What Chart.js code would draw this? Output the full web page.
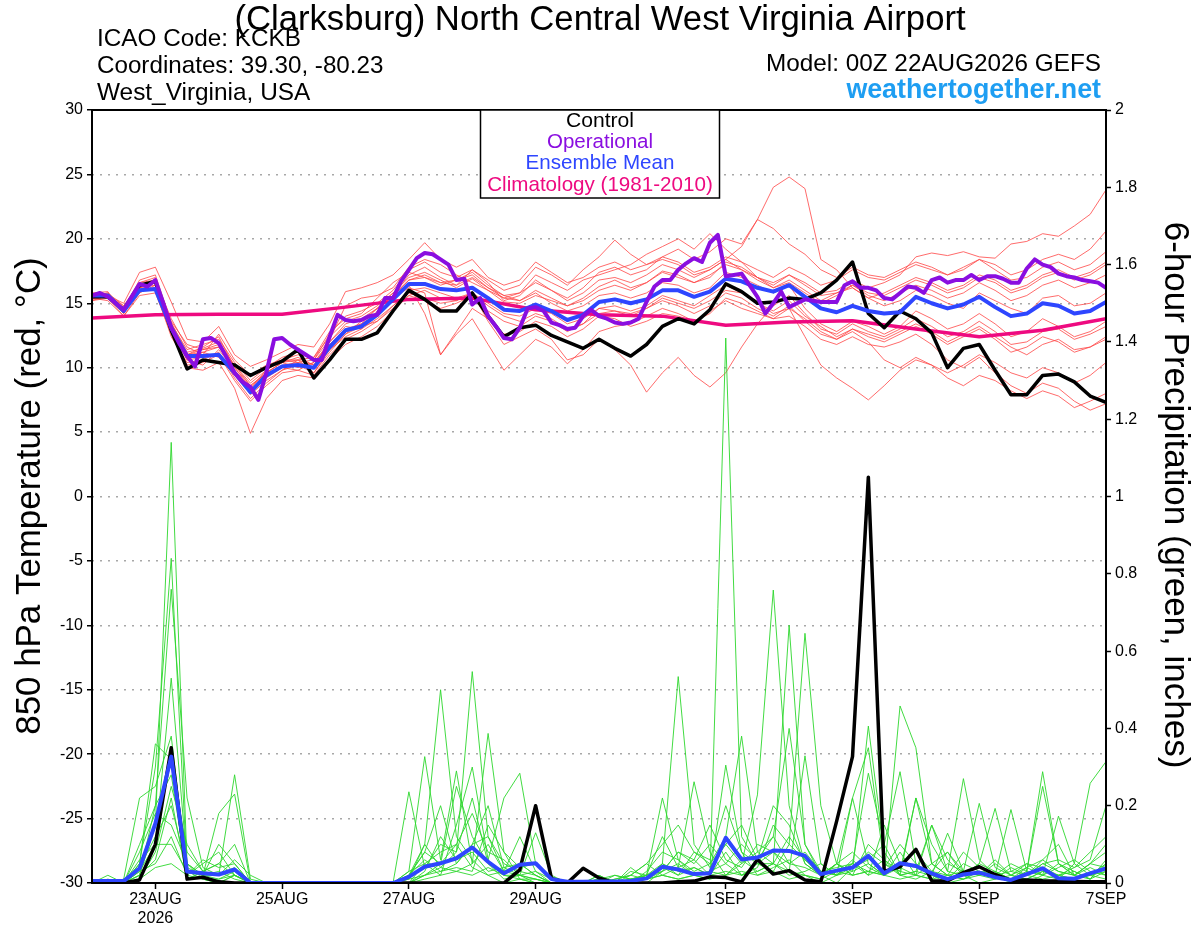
<!DOCTYPE html>
<html>
<head>
<meta charset="utf-8">
<title>KCKB GEFS 850 hPa temperature and precipitation</title>
<script src="https://cdn.jsdelivr.net/npm/chart.js@4.4.1/dist/chart.umd.min.js"></script>
<style>
  html, body { margin: 0; padding: 0; background: #fff; }
  canvas { display: block; }
</style>
</head>
<body>
<canvas id="meteogram" width="1200" height="927"></canvas>
<script>
// forecast hours: members, control and mean every 6 h, operational every 3 h, climatology daily
const stepHours = 6;
const opStepHours = 3;
const climStepHours = 24;

const tickHours = [24, 72, 120, 168, 240, 288, 336, 384];
const tickLabels = [['23AUG', '2026'], '25AUG', '27AUG', '29AUG', '1SEP', '3SEP', '5SEP', '7SEP'];

const controlTemp = [
  15.5, 15.5, 14.5, 16.4, 16.7, 12.9, 9.9, 10.6, 10.4, 10.2, 9.4, 10.0, 10.5,
  11.4, 9.2, 10.6, 12.2, 12.2, 12.7, 14.4, 16.0, 15.3, 14.4, 14.4, 15.8, 14.0,
  12.4, 13.1, 13.3, 12.5, 12.0, 11.5, 12.2, 11.5, 10.9, 11.8, 13.2, 13.8, 13.4,
  14.5, 16.5, 15.9, 15.0, 15.1, 15.4, 15.3, 15.8, 16.8, 18.2, 14.2, 13.1, 14.4,
  13.8, 12.7, 10.0, 11.5, 11.8, 9.8, 7.9, 7.9, 9.4, 9.5, 8.9, 7.8, 7.3
];

const meanTemp = [
  15.6, 15.6, 14.4, 16.0, 16.1, 13.1, 10.9, 10.9, 11.0, 9.6, 8.1, 9.4, 10.1,
  10.2, 10.0, 11.6, 12.9, 13.2, 14.1, 15.3, 16.5, 16.5, 16.1, 16.0, 16.2, 15.4,
  14.5, 14.4, 14.9, 14.4, 13.7, 14.1, 15.1, 15.3, 15.0, 15.3, 16.0, 16.0, 15.5,
  15.9, 16.9, 16.7, 16.2, 15.9, 16.4, 15.5, 14.6, 14.3, 14.8, 14.4, 14.2, 14.3,
  15.5, 15.0, 14.6, 14.9, 15.5, 14.7, 14.0, 14.2, 15.0, 14.8, 14.2, 14.4, 15.1
];

const opTemp = [
  15.6, 15.8, 15.5, 15.0, 14.5, 15.5, 16.5, 16.3, 16.8, 15.0, 13.1, 11.9, 10.9, 10.1, 12.2, 12.3,
  11.9, 10.8, 9.6, 8.9, 8.5, 7.5, 9.6, 12.2, 12.3, 11.8, 11.4, 11.0, 10.6, 10.6, 12.4, 14.1,
  13.7, 13.6, 13.7, 14.0, 14.1, 15.4, 15.4, 16.7, 17.6, 18.5, 18.9, 18.8, 18.4, 18.0, 16.8, 16.9,
  14.9, 15.4, 14.0, 13.2, 12.3, 12.2, 13.1, 14.6, 14.7, 14.4, 13.5, 13.3, 13.0, 13.1, 14.0, 14.5,
  14.0, 13.8, 13.5, 13.4, 13.5, 13.8, 15.1, 16.3, 16.8, 16.8, 17.6, 18.1, 18.5, 18.2, 19.7, 20.3,
  17.1, 17.2, 17.3, 16.4, 15.5, 14.2, 15.0, 15.9, 14.7, 15.0, 15.3, 15.2, 15.1, 15.1, 15.1, 16.4,
  16.7, 16.2, 16.2, 16.0, 15.4, 15.3, 15.8, 16.3, 16.2, 15.8, 16.8, 17.0, 16.6, 16.8, 16.8, 17.2,
  16.8, 17.1, 17.1, 16.9, 16.6, 16.6, 17.7, 18.4, 18.0, 17.8, 17.3, 17.1, 17.0, 16.8, 16.7, 16.6,
  16.2
];

const climTemp = [13.85, 14.1, 14.15, 14.15, 14.7, 15.3, 15.4, 14.5, 14.1, 14.0, 13.3, 13.55, 13.65, 13.0, 12.4, 12.9, 13.8];

const tempMembers = [
  [15.4, 15.7, 14.6, 16.8, 17.2, 13.5, 11.2, 11.5, 12.0, 10.2, 8.8, 9.8, 10.6,
   11.0, 10.8, 12.4, 13.6, 14.0, 14.8, 15.8, 17.0, 17.4, 16.8, 16.2, 16.9, 16.0,
   15.1, 15.0, 15.6, 15.2, 14.8, 15.4, 16.3, 16.8, 16.2, 16.6, 17.5, 17.2, 16.6,
   17.0, 18.2, 17.8, 17.0, 16.4, 17.2, 16.6, 15.8, 16.0, 16.8, 16.2, 16.6, 17.2,
   18.6, 18.9, 18.7, 19.0, 18.6, 18.5, 19.6, 19.8, 20.4, 20.2, 21.0, 21.9, 23.8],
  [15.8, 15.9, 14.2, 16.4, 16.6, 12.8, 10.6, 10.2, 11.4, 9.8, 7.9, 9.0, 9.8,
   10.6, 9.6, 11.2, 12.6, 13.6, 14.6, 15.6, 17.2, 17.8, 17.0, 16.4, 17.6, 16.6,
   15.2, 15.6, 16.8, 16.0, 15.4, 16.2, 17.4, 17.8, 17.2, 17.6, 18.6, 19.2, 18.4,
   19.0, 20.0, 19.6, 21.5, 24.0, 24.8, 23.9, 18.4, 17.6, 16.2, 15.4, 14.8, 15.2,
   16.0, 15.6, 15.0, 14.6, 15.8, 15.2, 14.6, 14.2, 15.4, 15.6, 14.8, 15.0, 15.8],
  [15.2, 15.4, 14.0, 15.6, 15.8, 12.6, 10.0, 9.8, 10.4, 8.4, 4.9, 7.6, 9.0,
   9.4, 9.2, 10.6, 11.8, 12.4, 13.2, 14.4, 15.6, 15.2, 14.6, 15.0, 15.6, 14.4,
   13.6, 13.2, 14.0, 13.6, 12.8, 13.4, 14.6, 14.4, 14.2, 14.6, 15.4, 15.0, 14.6,
   15.2, 16.0, 15.8, 15.0, 14.4, 15.2, 14.0, 13.2, 12.4, 13.0, 12.6, 12.2, 12.8,
   13.4, 12.8, 12.0, 12.6, 13.2, 12.4, 11.6, 11.0, 11.8, 12.2, 11.4, 11.6, 12.4],
  [15.6, 15.4, 14.6, 16.2, 16.4, 13.2, 11.0, 11.4, 11.8, 10.0, 8.6, 9.6, 10.4,
   10.8, 10.2, 11.8, 13.0, 13.4, 14.2, 15.4, 16.2, 15.8, 11.0, 12.8, 14.6, 13.8,
   12.6, 12.8, 13.6, 13.2, 12.4, 13.0, 14.0, 13.8, 13.2, 13.6, 14.2, 14.0, 13.6,
   14.2, 15.4, 15.0, 14.4, 13.8, 14.0, 13.2, 12.2, 11.8, 12.4, 11.8, 11.6, 12.0,
   12.6, 11.8, 10.6, 10.0, 10.8, 9.6, 8.6, 8.0, 8.8, 8.4, 7.4, 6.7, 7.2],
  [15.5, 15.8, 14.8, 16.0, 16.2, 13.0, 10.8, 11.2, 10.8, 9.4, 8.0, 9.2, 10.0,
   9.8, 10.4, 12.0, 13.2, 13.0, 13.8, 14.8, 16.0, 16.2, 15.8, 15.4, 15.8, 13.6,
   11.8, 12.4, 13.0, 12.2, 10.6, 11.0, 12.2, 11.4, 10.2, 8.1, 9.6, 10.8, 9.4,
   8.5, 9.6, 11.6, 13.4, 14.8, 15.6, 14.2, 13.0, 12.6, 13.4, 12.8, 12.4, 13.0,
   13.8, 13.2, 12.4, 12.8, 13.6, 12.8, 11.8, 12.0, 12.8, 13.0, 12.2, 12.6, 13.2],
  [15.7, 15.6, 14.2, 16.6, 17.0, 13.4, 11.4, 11.8, 12.2, 10.4, 9.0, 10.0, 10.8,
   11.2, 10.6, 12.6, 14.0, 14.4, 15.0, 16.0, 17.6, 18.2, 17.4, 17.0, 17.6, 16.8,
   16.0, 16.4, 17.8, 17.2, 16.4, 17.6, 18.6, 19.9, 18.8, 18.0, 18.6, 18.2, 17.4,
   17.8, 18.6, 18.2, 17.6, 17.0, 17.8, 17.2, 16.4, 16.8, 17.6, 17.0, 16.8, 17.4,
   18.0, 17.6, 17.2, 17.8, 18.4, 17.6, 16.8, 17.0, 17.8, 18.2, 17.6, 18.0, 19.0],
  [15.3, 15.5, 14.4, 16.2, 16.8, 13.8, 11.6, 11.0, 12.6, 10.6, 9.4, 10.2, 10.6,
   10.4, 10.6, 12.2, 14.8, 15.4, 15.6, 16.2, 17.8, 18.4, 18.0, 17.2, 16.6, 16.0,
   15.4, 15.8, 17.2, 16.6, 16.0, 16.8, 17.2, 17.6, 18.0, 18.8, 19.4, 20.0, 19.2,
   20.4, 19.2, 18.2, 17.0, 16.2, 16.6, 15.8, 15.0, 15.6, 16.4, 15.6, 15.2, 15.8,
   16.4, 16.0, 15.4, 15.8, 16.6, 16.0, 15.2, 15.6, 16.4, 16.8, 16.2, 16.6, 17.2],
  [15.6, 15.8, 14.6, 16.4, 16.0, 12.4, 10.4, 10.6, 11.2, 9.2, 7.6, 8.8, 9.8,
   10.2, 9.6, 11.4, 12.4, 13.0, 14.4, 15.6, 16.8, 17.2, 16.6, 16.4, 17.0, 16.2,
   15.6, 15.2, 15.8, 15.0, 14.4, 14.8, 15.6, 15.8, 15.4, 15.8, 16.6, 16.4, 15.8,
   16.2, 17.4, 17.0, 16.4, 15.8, 16.4, 14.6, 13.4, 12.8, 13.6, 13.2, 12.6, 13.2,
   14.4, 13.8, 13.0, 13.4, 14.2, 13.4, 12.4, 12.8, 13.8, 13.2, 12.4, 12.8, 13.6],
  [15.4, 15.2, 14.0, 15.8, 16.4, 13.6, 11.8, 11.4, 11.6, 10.2, 8.6, 9.6, 10.4,
   10.0, 10.4, 11.8, 12.8, 13.4, 14.6, 15.8, 16.4, 14.2, 11.0, 12.6, 13.8, 11.8,
   9.8, 11.0, 12.2, 11.6, 10.3, 11.4, 12.8, 13.2, 13.4, 14.0, 14.6, 14.2, 13.6,
   14.4, 15.2, 14.6, 14.2, 13.8, 14.6, 13.8, 12.8, 12.2, 12.8, 12.0, 10.6, 10.0,
   10.8, 10.2, 9.2, 8.6, 9.4, 9.0, 8.2, 7.6, 8.2, 7.8, 6.9, 7.4, 8.0],
  [15.2, 15.6, 15.0, 17.4, 17.8, 15.1, 12.2, 12.0, 13.2, 11.0, 10.1, 10.6, 11.2,
   11.8, 11.6, 13.4, 15.9, 16.2, 16.6, 17.2, 18.4, 19.7, 18.4, 17.8, 18.4, 17.0,
   16.4, 16.8, 18.2, 17.4, 16.6, 17.0, 17.8, 18.2, 17.6, 18.0, 18.4, 18.0, 17.2,
   17.6, 18.4, 17.6, 16.8, 16.2, 16.8, 16.0, 15.2, 15.8, 16.2, 15.4, 15.8, 16.4,
   17.0, 16.6, 16.0, 16.4, 17.2, 16.8, 16.0, 16.4, 17.2, 17.6, 17.0, 17.4, 18.2],
  [15.8, 15.4, 14.2, 16.0, 16.6, 13.0, 10.6, 10.8, 11.0, 9.6, 8.2, 9.4, 10.2,
   10.4, 10.0, 11.4, 12.6, 13.2, 13.6, 14.8, 15.8, 15.4, 15.0, 15.2, 15.8, 15.0,
   14.2, 14.0, 14.6, 14.2, 13.4, 13.8, 14.6, 14.8, 14.4, 14.8, 15.6, 15.2, 14.8,
   15.6, 16.4, 15.8, 15.0, 14.2, 14.6, 12.4, 10.2, 9.2, 8.4, 7.5, 8.6, 9.8,
   10.6, 10.2, 9.6, 10.2, 11.0, 10.4, 9.6, 9.2, 10.0, 9.6, 8.8, 9.4, 10.4],
  [15.5, 15.6, 14.8, 16.6, 16.8, 13.2, 11.0, 11.6, 12.4, 10.0, 8.4, 9.8, 10.6,
   10.6, 10.8, 12.8, 13.8, 14.2, 15.4, 16.6, 17.4, 17.0, 16.4, 16.8, 17.4, 16.4,
   15.6, 15.8, 16.6, 16.0, 15.2, 15.8, 16.8, 17.0, 16.6, 17.2, 18.0, 17.6, 17.0,
   17.6, 18.4, 19.4, 21.5, 20.8, 19.6, 18.8, 17.6, 17.0, 17.8, 17.2, 17.0, 17.6,
   18.2, 17.8, 17.2, 17.6, 18.4, 18.0, 17.2, 17.6, 18.4, 18.8, 18.4, 19.2, 20.6],
  [15.6, 15.7, 14.3, 16.2, 16.0, 12.8, 10.2, 10.4, 11.0, 9.0, 7.4, 8.6, 9.6,
   9.8, 9.4, 11.0, 12.2, 12.8, 13.6, 14.6, 15.6, 16.0, 15.4, 15.2, 15.8, 14.8,
   14.0, 13.6, 14.2, 13.8, 13.0, 13.4, 14.2, 14.4, 14.0, 14.6, 15.2, 14.8, 14.2,
   14.8, 15.8, 15.4, 14.6, 14.0, 14.8, 13.6, 12.6, 12.2, 13.0, 12.4, 12.0, 12.6,
   13.2, 12.6, 11.8, 12.4, 13.0, 12.2, 11.2, 11.6, 12.4, 12.0, 11.2, 11.6, 12.2],
  [15.4, 15.5, 14.5, 16.4, 16.6, 13.4, 11.0, 11.2, 11.6, 9.8, 8.4, 9.6, 10.4,
   10.6, 10.2, 12.0, 13.4, 13.8, 14.6, 15.6, 16.8, 17.0, 16.6, 16.8, 17.2, 16.2,
   15.4, 15.2, 16.0, 15.4, 14.8, 15.2, 16.0, 16.4, 16.0, 16.6, 17.4, 17.0, 16.6,
   17.2, 18.0, 17.6, 17.0, 16.6, 17.2, 16.4, 15.6, 15.8, 16.4, 15.8, 15.6, 16.2,
   16.8, 16.4, 15.8, 16.2, 17.0, 16.6, 15.8, 16.2, 17.0, 17.4, 16.8, 17.2, 18.0]
];

const controlPrecip = [
  0, 0, 0, 0.008, 0.10, 0.35, 0.01, 0.015, 0.003, 0, 0, 0, 0,
  0, 0, 0, 0, 0, 0, 0, 0, 0, 0, 0, 0, 0,
  0, 0.034, 0.20, 0.012, 0, 0.038, 0.013, 0, 0, 0, 0, 0.003, 0.005,
  0.016, 0.014, 0.003, 0.061, 0.023, 0.032, 0.008, 0.003, 0.16, 0.327, 1.05, 0.03, 0.042,
  0.087, 0.006, 0.005, 0.027, 0.042, 0.022, 0.007, 0.008, 0.006, 0.005, 0.004, 0.003, 0.003
];

const meanPrecip = [
  0.005, 0.005, 0.005, 0.038, 0.154, 0.327, 0.03, 0.025, 0.022, 0.035, 0, 0, 0,
  0, 0, 0, 0, 0, 0, 0, 0.016, 0.042, 0.051, 0.064, 0.092, 0.055,
  0.025, 0.047, 0.051, 0.01, 0.003, 0.003, 0.004, 0.004, 0.005, 0.012, 0.042, 0.035, 0.023,
  0.025, 0.117, 0.061, 0.066, 0.084, 0.083, 0.07, 0.023, 0.032, 0.04, 0.07, 0.025, 0.051,
  0.044, 0.025, 0.01, 0.022, 0.027, 0.015, 0.008, 0.023, 0.038, 0.012, 0.011, 0.025, 0.038
];

const precipMembers = [
  [0, 0, 0, 0.02, 0.15, 1.14, 0.05, 0.01, 0, 0.02, 0, 0, 0,
   0, 0, 0, 0, 0, 0, 0, 0.02, 0.08, 0.05, 0.1, 0.04, 0.02,
   0, 0.01, 0, 0, 0, 0, 0.01, 0, 0, 0, 0.03, 0.05, 0.02,
   0.01, 1.41, 0.12, 0.05, 0.08, 0.03, 0.02, 0, 0.02, 0.06, 0.02, 0.04, 0.1,
   0.05, 0.02, 0, 0.01, 0.03, 0.02, 0, 0, 0.02, 0.05, 0.03, 0.01, 0.06],
  [0, 0.01, 0, 0.05, 0.3, 0.84, 0.03, 0.02, 0.1, 0.05, 0, 0, 0,
   0, 0, 0, 0, 0, 0, 0, 0.02, 0.1, 0.5, 0.12, 0.06, 0.02,
   0.03, 0.02, 0, 0, 0, 0, 0, 0, 0.02, 0.01, 0.05, 0.534, 0.1,
   0.04, 0.1, 0.05, 0.228, 0.758, 0.2, 0.05, 0.02, 0, 0.04, 0.08, 0.05, 0.02,
   0.03, 0.15, 0.06, 0.02, 0, 0.01, 0.04, 0.02, 0.06, 0.1, 0.02, 0.05, 0.08],
  [0, 0, 0, 0.1, 0.2, 0.76, 0.22, 0.04, 0.02, 0.28, 0.01, 0, 0,
   0, 0, 0, 0, 0, 0, 0, 0.236, 0.04, 0.1, 0.08, 0.547, 0.12,
   0.03, 0.05, 0.02, 0, 0, 0, 0, 0, 0, 0.02, 0.12, 0.04, 0.262,
   0.08, 0.02, 0.06, 0.03, 0.05, 0.667, 0.1, 0.02, 0.05, 0.03, 0.406, 0.08, 0.02,
   0.01, 0.03, 0.08, 0.02, 0.05, 0.03, 0.01, 0.04, 0.02, 0.01, 0.05, 0.258, 0.314],
  [0, 0, 0, 0.03, 0.1, 0.53, 0.05, 0.02, 0.18, 0.23, 0, 0, 0,
   0, 0, 0, 0, 0, 0, 0, 0.03, 0.327, 0.06, 0.29, 0.05, 0.387,
   0.08, 0.01, 0, 0, 0, 0, 0.02, 0, 0.04, 0.01, 0.03, 0.08, 0.06,
   0.02, 0.305, 0.08, 0.05, 0.03, 0.1, 0.646, 0.2, 0.05, 0.02, 0.03, 0.02, 0.458,
   0.35, 0.05, 0.02, 0.03, 0.02, 0.01, 0.02, 0.01, 0.03, 0.02, 0.01, 0.02, 0.05],
  [0, 0, 0.01, 0.22, 0.25, 0.38, 0.03, 0.01, 0, 0.02, 0, 0, 0,
   0, 0, 0, 0, 0, 0, 0, 0, 0.05, 0.02, 0.15, 0.3, 0.06,
   0.22, 0.284, 0.05, 0.01, 0, 0, 0.01, 0, 0.01, 0.02, 0.22, 0.06, 0.03,
   0.05, 0.12, 0.38, 0.08, 0.05, 0.03, 0.329, 0.05, 0.02, 0.22, 0.05, 0.02, 0.04,
   0.02, 0.15, 0.03, 0.27, 0.06, 0.02, 0.01, 0.03, 0.288, 0.05, 0.02, 0.01, 0.03],
  [0, 0, 0, 0.05, 0.36, 0.32, 0.08, 0.03, 0.05, 0.02, 0, 0, 0,
   0, 0, 0, 0, 0, 0, 0, 0.02, 0.08, 0.2, 0.05, 0.1, 0.2,
   0.04, 0.02, 0.13, 0.02, 0, 0, 0.01, 0.02, 0.01, 0.01, 0.05, 0.02, 0.04,
   0.02, 0.08, 0.02, 0.03, 0.05, 0.12, 0.06, 0.03, 0.02, 0.05, 0.284, 0.1, 0.288,
   0.05, 0.02, 0.129, 0.03, 0.206, 0.04, 0.02, 0.05, 0.02, 0.173, 0.05, 0.02, 0.01],
  [0, 0.02, 0, 0.02, 0.2, 0.28, 0.02, 0.06, 0.04, 0.05, 0, 0, 0,
   0, 0, 0, 0, 0, 0, 0, 0, 0.02, 0.05, 0.25, 0.12, 0.05,
   0.01, 0.02, 0.03, 0, 0, 0, 0, 0.01, 0.02, 0.05, 0.02, 0.04, 0.06,
   0.15, 0.06, 0.04, 0.1, 0.08, 0.05, 0.04, 0.02, 0.05, 0.22, 0.35, 0.05, 0.03,
   0.22, 0.1, 0.03, 0.02, 0.05, 0.193, 0.03, 0.02, 0.05, 0.03, 0.02, 0.05, 0.04],
  [0, 0, 0, 0.01, 0.08, 0.25, 0.1, 0.03, 0.02, 0.06, 0.02, 0, 0,
   0, 0, 0, 0, 0, 0, 0, 0.01, 0.1, 0.04, 0.03, 0.05, 0.1,
   0.03, 0.12, 0.03, 0.01, 0, 0, 0.02, 0, 0, 0.03, 0.08, 0.06, 0.02,
   0.03, 0.05, 0.1, 0.06, 0.12, 0.05, 0.08, 0.03, 0.04, 0.05, 0.03, 0.06, 0.02,
   0.22, 0.05, 0.02, 0.08, 0.04, 0.02, 0.19, 0.03, 0.02, 0.04, 0.06, 0.03, 0.02],
  [0, 0, 0, 0.04, 0.12, 0.2, 0.04, 0.02, 0.01, 0.03, 0, 0, 0,
   0, 0, 0, 0, 0, 0, 0, 0.03, 0.05, 0.08, 0.1, 0.18, 0.08,
   0.06, 0.02, 0.01, 0, 0, 0, 0, 0.02, 0.01, 0.02, 0.04, 0.02, 0.08,
   0.05, 0.1, 0.15, 0.06, 0.2, 0.15, 0.05, 0.02, 0.05, 0.08, 0.04, 0.02, 0.05,
   0.08, 0.03, 0.02, 0.01, 0.03, 0.02, 0.05, 0.03, 0.25, 0.05, 0.02, 0.05, 0.1],
  [0, 0, 0, 0.08, 0.18, 0.15, 0.05, 0.02, 0.03, 0.01, 0, 0, 0,
   0, 0, 0, 0, 0, 0, 0, 0, 0.03, 0.12, 0.06, 0.08, 0.03,
   0.04, 0.05, 0.02, 0, 0, 0, 0, 0, 0, 0.01, 0.02, 0.01, 0.02,
   0.03, 0.02, 0.05, 0.08, 0.12, 0.4, 0.1, 0.03, 0.02, 0.03, 0.05, 0.02, 0.08,
   0.02, 0.01, 0.05, 0.03, 0.02, 0.06, 0.02, 0.01, 0.03, 0.02, 0.04, 0.06, 0.2],
  [0, 0, 0, 0.03, 0.05, 0.12, 0.02, 0.05, 0.08, 0.02, 0, 0, 0,
   0, 0, 0, 0, 0, 0, 0, 0.02, 0.06, 0.03, 0.04, 0.03, 0.15,
   0.08, 0.04, 0.05, 0.01, 0, 0, 0.01, 0, 0.01, 0.02, 0.03, 0.08, 0.05,
   0.1, 0.05, 0.02, 0.04, 0.15, 0.1, 0.06, 0.02, 0.03, 0.05, 0.02, 0.15, 0.05,
   0.04, 0.02, 0.01, 0.05, 0.03, 0.02, 0.03, 0.05, 0.04, 0.02, 0.03, 0.01, 0.05],
  [0, 0, 0, 0.02, 0.06, 0.22, 0.01, 0.03, 0.05, 0.1, 0, 0, 0,
   0, 0, 0, 0, 0, 0, 0, 0.01, 0.02, 0.04, 0.08, 0.22, 0.05,
   0.02, 0.02, 0.01, 0, 0, 0, 0, 0.01, 0.02, 0.05, 0.1, 0.15, 0.08,
   0.06, 0.2, 0.08, 0.02, 0.04, 0.06, 0.02, 0.01, 0.05, 0.02, 0.1, 0.06, 0.03,
   0.02, 0.05, 0.08, 0.03, 0.02, 0.05, 0.02, 0.04, 0.06, 0.03, 0.02, 0.04, 0.02],
  [0, 0, 0, 0.06, 0.1, 0.1, 0.03, 0.02, 0.02, 0.04, 0, 0, 0,
   0, 0, 0, 0, 0, 0, 0, 0, 0.02, 0.03, 0.05, 0.1, 0.12,
   0.05, 0.03, 0.02, 0, 0, 0, 0, 0, 0.03, 0.02, 0.05, 0.03, 0.04,
   0.02, 0.03, 0.02, 0.05, 0.05, 0.02, 0.03, 0.05, 0.02, 0.04, 0.06, 0.1, 0.02,
   0.03, 0.02, 0.01, 0.02, 0.03, 0.02, 0.01, 0.02, 0.05, 0.06, 0.04, 0.08, 0.12],
  [0, 0, 0, 0.01, 0.04, 0.05, 0.02, 0.01, 0.01, 0.02, 0, 0, 0,
   0, 0, 0, 0, 0, 0, 0, 0, 0.01, 0.02, 0.03, 0.02, 0.04,
   0.02, 0.01, 0.01, 0, 0, 0, 0, 0, 0.01, 0.01, 0.02, 0.01, 0.02,
   0.01, 0.02, 0.03, 0.02, 0.03, 0.01, 0.02, 0.01, 0.03, 0.02, 0.03, 0.02, 0.01,
   0.02, 0.01, 0.02, 0.01, 0.02, 0.03, 0.01, 0.02, 0.01, 0.02, 0.01, 0.02, 0.03]
];

const fontFamily = '"Liberation Sans", Arial, Helvetica, sans-serif';

function toPoints(values, step) {
  return values.map((value, i) => ({ x: i * step, y: value }));
}

// writes a text stretched to the width it has in the reference
function fitText(ctx, text, x, y, width, color, align, weight) {
  ctx.font = `${weight} 100px ${fontFamily}`;
  const size = 100 * width / ctx.measureText(text).width;
  ctx.font = `${weight} ${size.toFixed(1)}px ${fontFamily}`;
  ctx.fillStyle = color;
  ctx.textAlign = align;
  ctx.textBaseline = 'alphabetic';
  ctx.fillText(text, x, y);
}

const decorations = {
  id: 'decorations',
  afterDraw(chart) {
    const ctx = chart.ctx;
    const area = chart.chartArea;
    ctx.save();

    ctx.strokeStyle = '#000';
    ctx.lineWidth = 2;
    ctx.strokeRect(area.left, area.top, area.right - area.left, area.bottom - area.top);

    fitText(ctx, '(Clarksburg) North Central West Virginia Airport', 600, 30, 731, '#000', 'center', 'normal');
    fitText(ctx, 'ICAO Code: KCKB', 97, 46, 204, '#000', 'left', 'normal');
    fitText(ctx, 'Coordinates: 39.30, -80.23', 97, 73, 286, '#000', 'left', 'normal');
    fitText(ctx, 'West_Virginia, USA', 97, 100, 213, '#000', 'left', 'normal');
    fitText(ctx, 'Model: 00Z 22AUG2026 GEFS', 1101, 71, 335, '#000', 'right', 'normal');
    fitText(ctx, 'weathertogether.net', 1101, 98, 255, '#1e9ef2', 'right', 'bold');

    ctx.fillStyle = '#fff';
    ctx.fillRect(480, area.top, 239, 88);
    ctx.lineWidth = 1.5;
    ctx.strokeRect(480.5, area.top, 239, 88);
    fitText(ctx, 'Control', 600, 127, 68, '#000', 'center', 'normal');
    fitText(ctx, 'Operational', 600, 148, 106, '#8a0ee0', 'center', 'normal');
    fitText(ctx, 'Ensemble Mean', 600, 169, 149, '#2e46ff', 'center', 'normal');
    fitText(ctx, 'Climatology (1981-2010)', 600, 191, 226, '#ee0a80', 'center', 'normal');

    ctx.save();
    ctx.translate(30, 496);
    ctx.rotate(-Math.PI / 2);
    fitText(ctx, '850 hPa Temperature (red, °C)', 0, 10, 477, '#000', 'center', 'normal');
    ctx.restore();

    ctx.save();
    ctx.translate(1175, 495);
    ctx.rotate(Math.PI / 2);
    fitText(ctx, '6-hour Precipitation (green, inches)', 0, 10, 546, '#000', 'center', 'normal');
    ctx.restore();

    ctx.restore();
  }
};

function buildDatasets() {
  const datasets = [];

  tempMembers.forEach(member => {
    datasets.push({
      data: toPoints(member, stepHours),
      yAxisID: 'y',
      borderColor: 'rgba(255, 70, 70, 0.8)',
      borderWidth: 1,
      order: 20
    });
  });

  precipMembers.forEach(member => {
    datasets.push({
      data: toPoints(member, stepHours),
      yAxisID: 'y2',
      borderColor: 'rgba(45, 215, 45, 0.9)',
      borderWidth: 1,
      order: 19
    });
  });

  datasets.push({ label: 'Climatology (1981-2010)', data: toPoints(climTemp, climStepHours), yAxisID: 'y', borderColor: '#ee0a80', borderWidth: 3.5, order: 6 });
  datasets.push({ label: 'Control', data: toPoints(controlTemp, stepHours), yAxisID: 'y', borderColor: '#000', borderWidth: 3.5, order: 5 });
  datasets.push({ label: 'Ensemble Mean', data: toPoints(meanTemp, stepHours), yAxisID: 'y', borderColor: '#2e46ff', borderWidth: 4, order: 4 });
  datasets.push({ label: 'Operational', data: toPoints(opTemp, opStepHours), yAxisID: 'y', borderColor: '#8a0ee0', borderWidth: 4, order: 3 });
  datasets.push({ label: 'Control precip', data: toPoints(controlPrecip, stepHours), yAxisID: 'y2', borderColor: '#000', borderWidth: 3.5, order: 2 });
  datasets.push({ label: 'Mean precip', data: toPoints(meanPrecip, stepHours), yAxisID: 'y2', borderColor: '#2e46ff', borderWidth: 4, order: 1 });

  return datasets;
}

function drawMeteogram() {
  Chart.defaults.font.family = fontFamily;
  Chart.defaults.color = '#000';

  const ctx = document.getElementById('meteogram').getContext('2d');

  new Chart(ctx, {
    type: 'line',
    data: { datasets: buildDatasets() },
    options: {
      responsive: false,
      devicePixelRatio: 1,
      animation: false,
      layout: { padding: { top: 110, left: 0, right: 0, bottom: 0 } },
      elements: {
        point: { radius: 0, hoverRadius: 0 },
        line: { tension: 0, borderJoinStyle: 'round', borderCapStyle: 'round', fill: false }
      },
      plugins: {
        legend: { display: false },
        tooltip: { enabled: false }
      },
      scales: {
        x: {
          type: 'linear',
          min: 0,
          max: 384,
          afterBuildTicks: scale => { scale.ticks = tickHours.map(h => ({ value: h })); },
          afterFit: scale => { scale.height = 44; },
          ticks: {
            autoSkip: false,
            maxRotation: 0,
            padding: 1,
            font: { family: fontFamily, size: 16 },
            callback: value => tickLabels[tickHours.indexOf(value)]
          },
          grid: { drawOnChartArea: false, drawTicks: true, tickLength: 6, tickColor: '#000', tickWidth: 1.5 },
          border: { display: false }
        },
        y: {
          position: 'left',
          min: -30,
          max: 30,
          afterFit: scale => { scale.width = 92; },
          ticks: { stepSize: 5, padding: 4, font: { family: fontFamily, size: 16 } },
          grid: { color: '#a8a8a8', lineWidth: 1.5, tickColor: '#000', tickLength: 5, tickWidth: 1.5, tickBorderDash: [] },
          border: { display: false, dash: [2, 6] }
        },
        y2: {
          position: 'right',
          min: 0,
          max: 2,
          afterFit: scale => { scale.width = 94; },
          ticks: {
            stepSize: 0.2,
            padding: 4,
            font: { family: fontFamily, size: 16 },
            callback: value => String(Number(value.toFixed(1)))
          },
          grid: { drawOnChartArea: false, tickColor: '#000', tickLength: 5, tickWidth: 1.5 },
          border: { display: false }
        }
      }
    },
    plugins: [decorations]
  });
}

window.onload = drawMeteogram;
</script>
</body>
</html>
